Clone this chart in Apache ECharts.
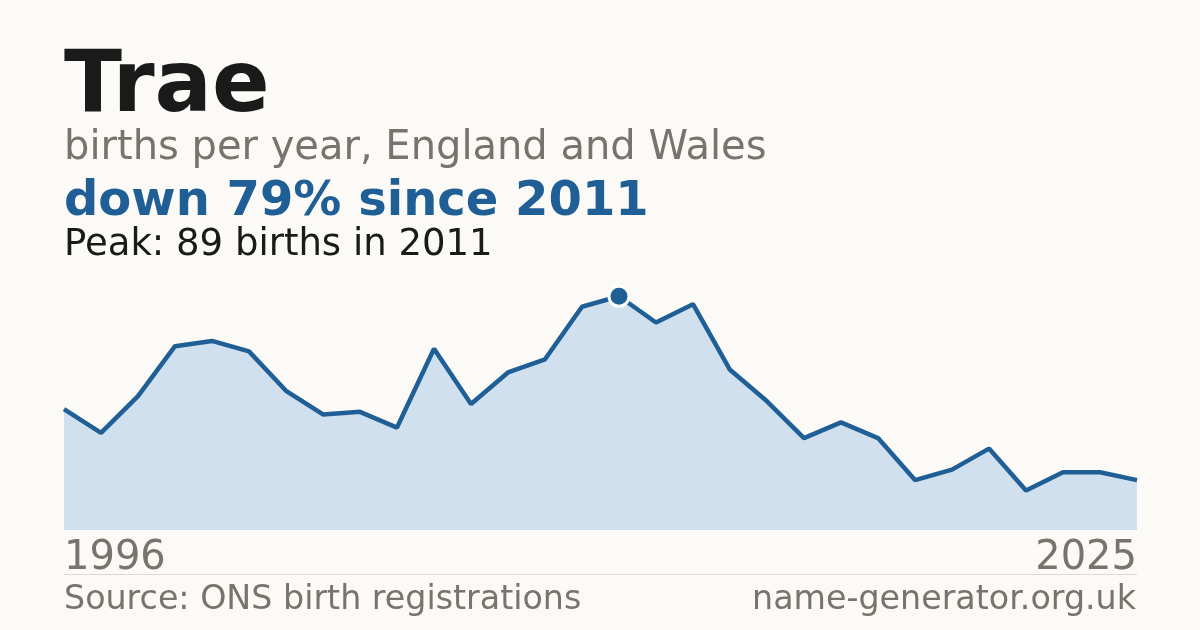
<!DOCTYPE html>
<html>
<head>
<meta charset="utf-8">
<script src="https://cdn.jsdelivr.net/npm/echarts@6/dist/echarts.min.js"></script>
<style>
  html, body { margin: 0; padding: 0; background: #fbfaf6; }
  #chart { width: 1200px; height: 630px; }
</style>
</head>
<body>
<div id="chart"></div>
<script>
var years = ['1996', '1997', '1998', '1999', '2000', '2001', '2002', '2003', '2004', '2005',
  '2006', '2007', '2008', '2009', '2010', '2011', '2012', '2013', '2014', '2015',
  '2016', '2017', '2018', '2019', '2020', '2021', '2022', '2023', '2024', '2025'];
var births = [46, 37, 51, 70, 72, 68, 53, 44, 45, 39,
  69, 48, 60, 65, 85, 89, 79, 86, 61, 49,
  35, 41, 35, 19, 23, 31, 15, 22, 22, 19];
var peakYear = '2011';

var blue = '#1f5f96';
var grey = '#78746d';
var font = 'DejaVu Sans';

var dom = document.getElementById('chart');
var myChart = echarts.init(dom);

var peakIndex = years.indexOf(peakYear);
var lineData = births.map(function (v, i) {
  if (i !== peakIndex) return v;
  return {
    value: v,
    symbol: 'circle',
    symbolSize: 20,
    itemStyle: { color: blue, borderColor: '#ffffff', borderWidth: 3 }
  };
});

var option = {
  backgroundColor: '#fbfaf6',
  animation: false,
  grid: { left: 64, right: 63, top: 270, bottom: 100 },
  xAxis: {
    type: 'category',
    boundaryGap: false,
    data: years,
    axisLine: { show: false },
    axisTick: { show: false },
    splitLine: { show: false },
    axisLabel: {
      interval: function (i) { return i === 0 || i === years.length - 1; },
      alignMinLabel: 'left',
      alignMaxLabel: 'right',
      color: grey,
      fontFamily: font,
      fontSize: 40,
      margin: 9
    }
  },
  yAxis: {
    type: 'value',
    min: 0,
    max: 99,
    show: false,
    splitLine: { show: false }
  },
  series: [
    {
      type: 'line',
      data: lineData,
      showSymbol: true,
      symbol: 'none',
      clip: false,
      lineStyle: { color: blue, width: 4.5 },
      areaStyle: { color: '#d0e0ef', opacity: 1 },
      itemStyle: { color: blue },
      z: 3
    }
  ],
  graphic: [
    {
      type: 'text', left: 64, top: 46,
      style: { text: 'Trae', fill: '#1a1a1a', font: 'bold 85px "DejaVu Sans"' }
    },
    {
      type: 'text', left: 64, top: 129,
      style: { text: 'births per year, England and Wales', fill: grey, font: '40px "DejaVu Sans"' }
    },
    {
      type: 'text', left: 64, top: 179,
      style: { text: 'down 79% since 2011', fill: blue, font: 'bold 48px "DejaVu Sans"' }
    },
    {
      type: 'text', left: 64, top: 227,
      style: { text: 'Peak: 89 births in 2011', fill: '#1a1a1a', font: '37px "DejaVu Sans"' }
    },
    {
      type: 'line',
      shape: { x1: 64, y1: 574.5, x2: 1137, y2: 574.5 },
      style: { stroke: '#dedad3', lineWidth: 1 }
    },
    {
      type: 'text', left: 64, top: 584,
      style: { text: 'Source: ONS birth registrations', fill: grey, font: '33.3px "DejaVu Sans"' }
    },
    {
      type: 'text', right: 64, top: 584,
      style: { text: 'name-generator.org.uk', fill: grey, font: '33.3px "DejaVu Sans"' }
    }
  ]
};

if (option && typeof option === 'object') {
  myChart.setOption(option, true);
}
</script>
</body>
</html>
